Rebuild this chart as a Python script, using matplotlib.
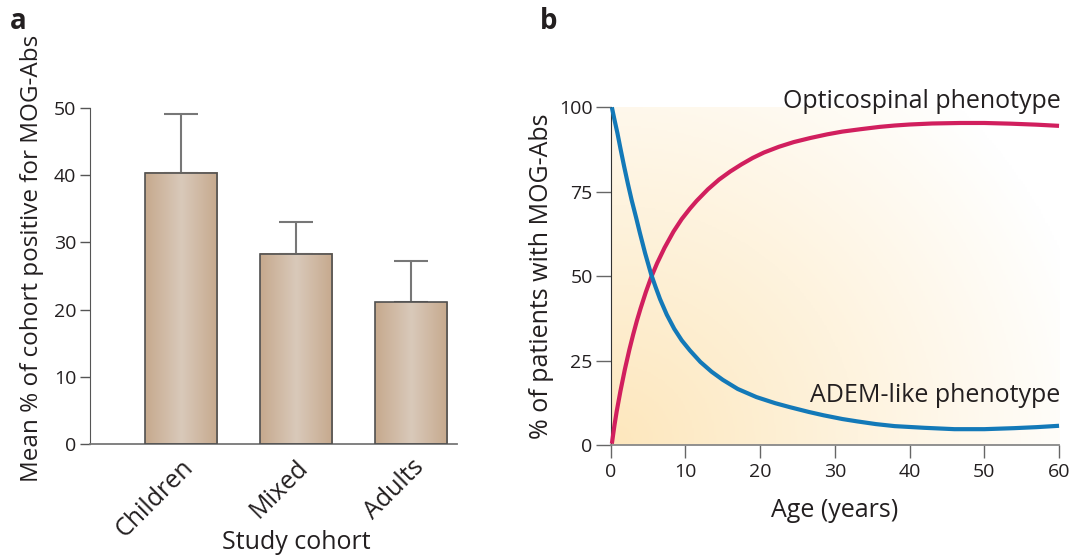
import numpy as np
import matplotlib
matplotlib.use("Agg")
from matplotlib import pyplot as plt
from matplotlib.colors import LinearSegmentedColormap

# panel a: mean % of cohort positive for MOG-Abs
cohorts    = ["Children", "Mixed", "Adults"]
cohort_pct = [40.4, 28.3, 21.1]
cohort_err = [8.7, 4.7, 6.1]

# panel b: % of patients with MOG-Abs by age
adem_age = [0.15, 0.5, 0.9, 1.3, 1.8, 2.3, 2.8, 3.4, 3.9, 4.6, 5.4, 6.0, 6.6, 7.5,
            8.5, 9.5, 10.6, 12, 13.5, 15, 17, 19.5, 22, 24, 26.5, 28.5, 31, 33,
            35.5, 38, 42, 46, 50, 54, 57, 60]
adem = [100, 96.3, 92.3, 87.8, 82.4, 77.3, 72.5, 67.3, 62.8, 56.8, 50.6, 46.8, 43.2, 38.6,
        34.4, 31.0, 28.0, 24.6, 21.7, 19.3, 16.6, 14.2, 12.4, 11.2, 9.8, 8.8, 7.7, 7.0,
        6.2, 5.6, 5.1, 4.7, 4.7, 5.0, 5.3, 5.7]

optico_age = [0.15, 0.5, 0.8, 1.3, 1.9, 2.5, 3.0, 3.5, 4.0, 4.7, 5.4, 6.2, 7.2, 8.4,
              9.5, 10.6, 11.5, 13, 14.5, 16, 17.5, 19, 20.5, 22.5, 24.5, 26.7, 29, 31,
              33.4, 36, 38, 40, 43, 46.8, 50, 53.5, 57, 60]
optico = [0.4, 5.9, 10.0, 16.0, 22.5, 28.3, 32.7, 36.8, 40.5, 45.3, 49.6, 53.8, 58.4, 63.2,
          66.9, 70.0, 72.3, 75.7, 78.6, 81.0, 83.1, 85.0, 86.6, 88.3, 89.7, 90.9, 92.0, 92.8,
          93.5, 94.2, 94.6, 94.9, 95.2, 95.35, 95.35, 95.15, 94.85, 94.5]

plt.rcParams['font.family'] = ['Open Sans', 'DejaVu Sans']
TXT = '#231f20'

def main():

    fig = plt.figure( figsize=(10.8, 5.57), dpi=100 )

    # ---------- a ----------
    ax = fig.add_axes( [0.0833, 0.203, 0.340, 0.603] )
    xs = np.arange( len(cohorts) )
    width = 0.63

    bars = ax.bar( xs, cohort_pct, width, color='none', edgecolor='#505050',
                   linewidth=1.2, zorder=3 )
    ax.errorbar( xs, cohort_pct, yerr=[np.zeros(3), cohort_err], fmt='none',
                 ecolor='#777777', elinewidth=1.5, capsize=12.5, capthick=1.5, zorder=2 )

    # horizontal shading inside each bar
    cmap_bar = LinearSegmentedColormap.from_list( 'tan', ['#c6a98d', '#d9c9ba', '#c6a98d'] )
    grad = np.linspace( 0, 1, 256 ).reshape( 1, -1 )
    for b in bars:
        x0 = b.get_x()
        ax.imshow( grad, cmap=cmap_bar, aspect='auto', zorder=2.5,
                   extent=(x0, x0 + b.get_width(), 0, b.get_height()) )

    ax.set_xlim( -0.79, 2.40 )
    ax.set_ylim( 0, 50 )
    ax.set_yticks( [0, 10, 20, 30, 40, 50] )
    ax.set_xticks( xs )
    ax.set_xticklabels( cohorts, rotation=45, ha='right', rotation_mode='anchor',
                        fontsize=18, color=TXT )
    ax.tick_params( axis='x', length=0, pad=8 )
    ax.tick_params( axis='y', length=7, width=1, color='#555555', labelsize=14,
                    labelcolor=TXT, pad=3 )
    for s in ['top', 'right']:
        ax.spines[s].set_visible( False )
    ax.spines['left'].set_color( '#555555' )
    ax.spines['bottom'].set_color( '#777777' )
    ax.spines['bottom'].set_linewidth( 1.3 )

    ax.set_ylabel( 'Mean % of cohort positive for MOG-Abs', fontsize=17.5, color=TXT )
    ax.yaxis.set_label_coords( -0.125, 0.552 )
    ax.set_xlabel( 'Study cohort', fontsize=18, color=TXT )
    ax.xaxis.set_label_coords( 0.561, -0.255 )
    ax.xaxis.label.set_va( 'top' )

    fig.text( 0.009, 0.962, 'a', fontsize=20, fontweight='bold', color=TXT, va='center' )

    # ---------- b ----------
    bx = fig.add_axes( [0.5655, 0.201, 0.4151, 0.6064] )

    # background shading from lower left to upper right
    gx, gy = np.meshgrid( np.linspace( 0, 1, 200 ), np.linspace( 0, 1, 200 ) )
    d = np.clip( np.sqrt( gx**2 * 1.0 + gy**2 * 0.6 ) / 1.1, 0, 1 )
    cmap_bg = LinearSegmentedColormap.from_list( 'cream', ['#fde7bd', '#fef3de', '#ffffff'] )
    bx.imshow( d, cmap=cmap_bg, origin='lower', aspect='auto', extent=(0, 60, 0, 100), zorder=0 )

    bx.plot( optico_age, optico, color='#d11f5e', lw=3, solid_capstyle='butt',
             solid_joinstyle='round', zorder=3, clip_on=False )
    bx.plot( adem_age, adem, color='#1379b8', lw=3, solid_capstyle='butt',
             solid_joinstyle='round', zorder=4, clip_on=False )

    bx.text( 60.2, 101.6, 'Opticospinal phenotype', ha='right', va='center', fontsize=18, color=TXT )
    bx.text( 60.2, 14.6, 'ADEM-like phenotype', ha='right', va='center', fontsize=18, color=TXT )

    bx.set_xlim( 0, 60 )
    bx.set_ylim( 0, 100 )
    bx.set_xticks( [0, 10, 20, 30, 40, 50, 60] )
    bx.set_yticks( [0, 25, 50, 75, 100] )
    bx.tick_params( axis='x', length=9, width=1, color='#666666', labelsize=14,
                    labelcolor=TXT, pad=4 )
    bx.tick_params( axis='y', length=11, width=1, color='#666666', labelsize=14,
                    labelcolor=TXT, pad=2 )
    for s in ['top', 'right']:
        bx.spines[s].set_visible( False )
    bx.spines['left'].set_color( '#333333' )
    bx.spines['bottom'].set_color( '#888888' )
    bx.spines['bottom'].set_linewidth( 1.3 )

    bx.set_xlabel( 'Age (years)', fontsize=18, color=TXT, labelpad=12 )
    bx.set_ylabel( '% of patients with MOG-Abs', fontsize=18, color=TXT, labelpad=4 )

    fig.text( 0.5, 0.962, 'b', fontsize=20, fontweight='bold', color=TXT, va='center' )

    fig.savefig( "out.png", dpi=100 )

if __name__ == "__main__":
    main()
